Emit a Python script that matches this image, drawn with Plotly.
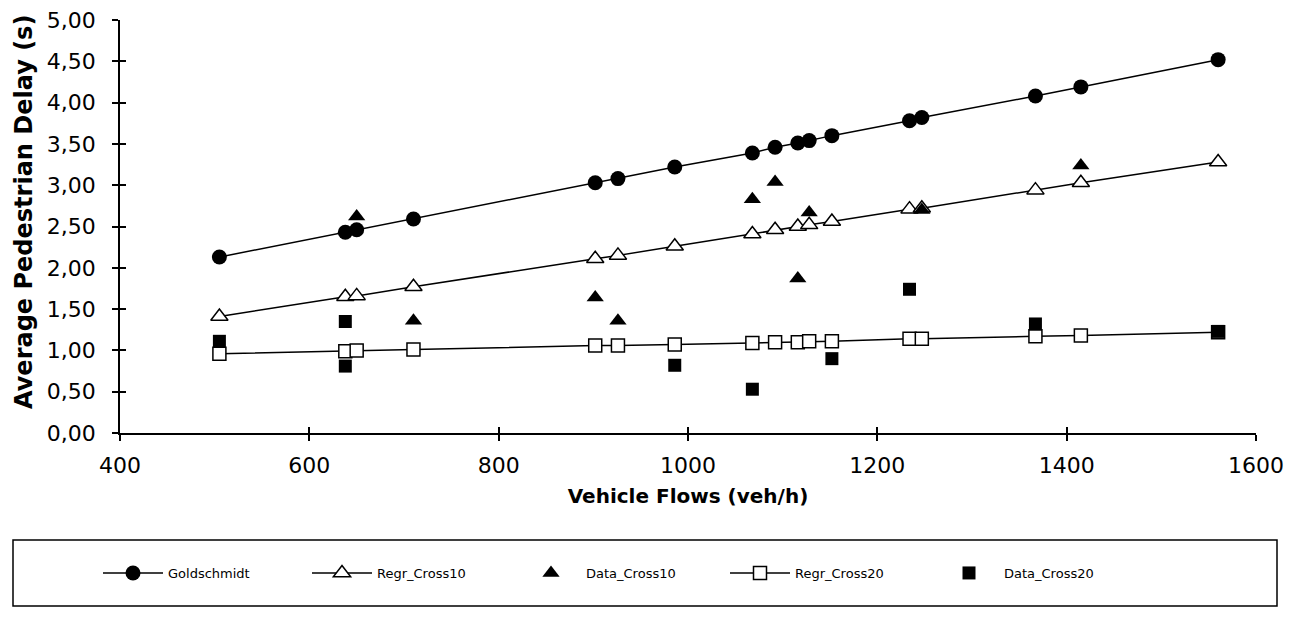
import plotly.graph_objects as go

# Vehicle flows (veh/h) for the regression / theory series
flows = [505, 638, 650, 710, 902, 926, 986, 1068, 1092, 1116, 1128, 1152, 1234, 1247, 1367, 1415, 1560]
goldschmidt = [2.13, 2.43, 2.46, 2.59, 3.03, 3.08, 3.22, 3.39, 3.46, 3.51, 3.54, 3.60, 3.78, 3.82, 4.08, 4.19, 4.52]
regr_cross10 = [1.41, 1.65, 1.66, 1.77, 2.11, 2.15, 2.26, 2.41, 2.46, 2.50, 2.52, 2.56, 2.71, 2.72, 2.94, 3.03, 3.28]
regr_cross20 = [0.96, 0.99, 1.00, 1.01, 1.06, 1.06, 1.07, 1.09, 1.10, 1.10, 1.11, 1.11, 1.14, 1.14, 1.17, 1.18, 1.22]

# Observed data
data10_x = [650, 710, 902, 926, 1068, 1092, 1116, 1128, 1247, 1415]
data10_y = [2.62, 1.36, 1.64, 1.36, 2.83, 3.04, 1.87, 2.67, 2.70, 3.24]
data20_x = [505, 638, 638, 986, 1068, 1152, 1234, 1367, 1560]
data20_y = [1.11, 1.35, 0.81, 0.82, 0.53, 0.90, 1.74, 1.32, 1.23]

x_ticks = [400, 600, 800, 1000, 1200, 1400, 1600]
y_ticks = [0, 0.5, 1, 1.5, 2, 2.5, 3, 3.5, 4, 4.5, 5]

FONT = "DejaVu Sans"
BLACK = "#000000"

fig = go.Figure()
fig.add_trace(go.Scatter(
    x=flows, y=goldschmidt, name="Goldschmidt", mode="lines+markers",
    line=dict(color=BLACK, width=1.5),
    marker=dict(symbol="circle", size=15, color=BLACK)))
fig.add_trace(go.Scatter(
    x=flows, y=regr_cross10, name="Regr_Cross10", mode="lines+markers",
    line=dict(color=BLACK, width=1.5),
    marker=dict(symbol="triangle-up", size=15, color="white", line=dict(color=BLACK, width=1.5))))
fig.add_trace(go.Scatter(
    x=data10_x, y=data10_y, name="Data_Cross10", mode="markers",
    marker=dict(symbol="triangle-up", size=15, color=BLACK)))
fig.add_trace(go.Scatter(
    x=flows, y=regr_cross20, name="Regr_Cross20", mode="lines+markers",
    line=dict(color=BLACK, width=1.5),
    marker=dict(symbol="square", size=13, color="white", line=dict(color=BLACK, width=1.5))))
fig.add_trace(go.Scatter(
    x=data20_x, y=data20_y, name="Data_Cross20", mode="markers",
    marker=dict(symbol="square", size=13, color=BLACK)))
# helper trace so the overlay axes (inner tick halves) are drawn
fig.add_trace(go.Scatter(x=[None], y=[None], xaxis="x2", yaxis="y2",
                         showlegend=False, hoverinfo="skip"))

# page is rendered with an 8px body margin, so work in figure coordinates
OFF = 8
W, H = 1297 - OFF, 621 - OFF
L, R_EDGE, T, B_EDGE = 120 - OFF, 1256 - OFF, 20 - OFF, 433 - OFF

def px_x(p):
    return (p - OFF - L) / (R_EDGE - L)

def px_y(p):
    return (B_EDGE - (p - OFF)) / (B_EDGE - T)

fig.update_layout(
    width=W, height=H,
    margin=dict(l=L, r=W - R_EDGE, t=T, b=H - B_EDGE, pad=0, autoexpand=False),
    paper_bgcolor="white", plot_bgcolor="white",
    separators=",.",
    font=dict(family=FONT, color=BLACK),
    showlegend=True,
    legend=dict(
        orientation="h", x=px_x(98), y=px_y(573), xanchor="left", yanchor="middle",
        font=dict(family=FONT, size=13, color=BLACK),
        itemwidth=60,
        entrywidth=134, entrywidthmode="pixels",
        bgcolor="rgba(0,0,0,0)", borderwidth=0,
    ),
    xaxis=dict(
        range=[400, 1600], tickvals=x_ticks, ticktext=[str(v) for v in x_ticks],
        showgrid=False, zeroline=False, showline=True, linecolor=BLACK, linewidth=1.5,
        ticks="outside", ticklen=6, tickwidth=1.5, tickcolor=BLACK,
        tickfont=dict(family=FONT, size=22, color=BLACK), ticklabelstandoff=6,
        ticklabeloverflow="allow",
        title=dict(text="<b>Vehicle Flows (veh/h)</b>", font=dict(family=FONT, size=20, color=BLACK), standoff=12),
    ),
    yaxis=dict(
        range=[0, 5], tickvals=y_ticks, tickformat=".2f",
        showgrid=False, zeroline=False, showline=True, linecolor=BLACK, linewidth=1.5,
        ticks="outside", ticklen=6, tickwidth=1.5, tickcolor=BLACK,
        tickfont=dict(family=FONT, size=22, color=BLACK), ticklabelstandoff=12,
        ticklabeloverflow="allow",
    ),
    xaxis2=dict(overlaying="x", matches="x", anchor="y2", side="bottom", tickvals=x_ticks,
                showticklabels=False, showgrid=False, zeroline=False, showline=False,
                ticks="inside", ticklen=6, tickwidth=1.5, tickcolor=BLACK),
    yaxis2=dict(overlaying="y", matches="y", anchor="x2", side="left", tickvals=y_ticks,
                showticklabels=False, showgrid=False, zeroline=False, showline=False,
                ticks="inside", ticklen=6, tickwidth=1.5, tickcolor=BLACK),
    annotations=[dict(text="<b>Average Pedestrian Delay (s)</b>", textangle=-90,
                      xref="paper", yref="paper", x=px_x(24), y=px_y(212),
                      xanchor="center", yanchor="middle", showarrow=False,
                      font=dict(family=FONT, size=24, color=BLACK))],
    shapes=[dict(type="rect", xref="paper", yref="paper",
                 x0=px_x(13), x1=px_x(1277), y0=px_y(606), y1=px_y(540),
                 line=dict(color=BLACK, width=1.5), fillcolor="rgba(0,0,0,0)")],
)

fig.write_html("out.html")
